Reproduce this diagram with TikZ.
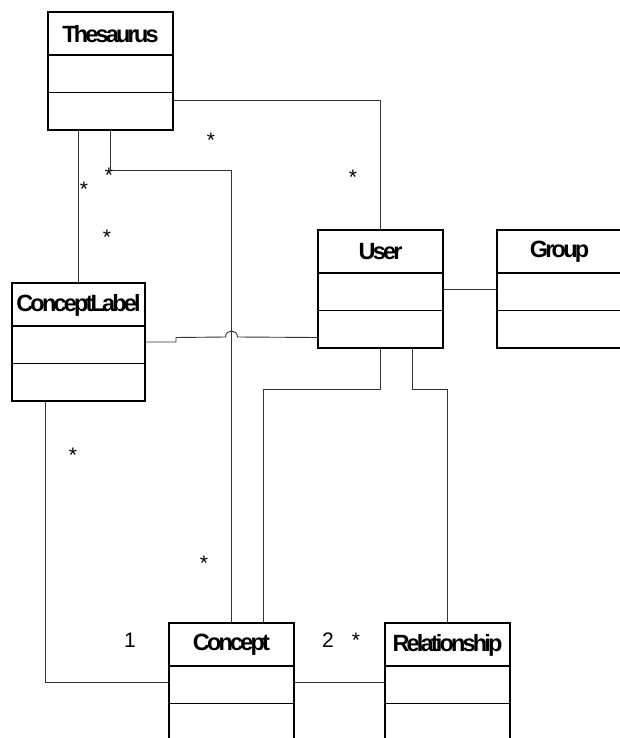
\documentclass[tikz,border=0pt]{standalone}
\usepackage{fontspec}
\setmainfont{Liberation Sans}
\newfontfamily\clsfont[LetterSpace=-12]{Liberation Sans}
\usetikzlibrary{calc}
\tikzset{
  clsbox/.style={draw, line width=1.5pt, anchor=north west, minimum height=118pt, inner sep=0pt, outer sep=0pt},
  clstitle/.style={font=\clsfont\bfseries\fontsize{23.5}{23.5}\selectfont, inner sep=0pt},
  clsdiv/.style={line width=1.6pt},
  conn/.style={line width=0.9pt, draw=black!80},
  mult/.style={font=\fontsize{21}{21}\selectfont, inner sep=0pt}
}
\newcommand{\umlcls}[5]{%
  \node[clsbox, minimum width=#4] (#1) at (#2,#3) {};
  \node[clstitle] (#1-t) at ($(#1.north)+(0,22)$) {#5};
  \draw[clsdiv] ($(#1.north west)+(0,43)$) -- ($(#1.north east)+(0,43)$);
  \draw[clsdiv] ($(#1.north west)+(0,80.5)$) -- ($(#1.north east)+(0,80.5)$);
}
\begin{document}
\begin{tikzpicture}[x=1pt,y=-1pt]
\useasboundingbox (0,0) rectangle (620,738);
\fill[white] (0,0) rectangle (620,738);
\umlcls{th}{48}{12}{125pt}{Thesaurus}
\umlcls{us}{318}{230}{125pt}{User}
\umlcls{gr}{497}{230}{125pt}{Group}
\umlcls{cl}{12}{283}{133pt}{ConceptLabel}
\umlcls{co}{169}{623}{125pt}{Concept}
\umlcls{re}{385}{623}{125pt}{Relationship}
\coordinate (k1) at (231.5,170);
% connectors
\draw[conn] ([yshift=-29pt]th.east) -| (us.north);
\draw[conn] (cl.north |- th.south) -- (cl.north);
\draw[conn] (th.south) |- (k1) -- (co.north);
\draw[conn] (cl.east) -- ++(31,0) -- ++(0,-4.5) -- (225.5,337)
   .. controls (225.5,329) and (237.5,329) .. (237.5,337)
   -- ([yshift=-48.5pt]us.west);
\draw[conn] (us.east) -- (gr.west);
\draw[conn] (us.south) -- ++(0,41) -| ([xshift=31.5pt]co.north);
\draw[conn] ([xshift=31.5pt]us.south) -- ++(0,41) -| (re.north);
\draw[conn] ([xshift=-33.5pt]cl.south) |- (co.west);
\draw[conn] (co.east) -- (re.west);
% multiplicities
\node[mult] (m1) at (211,140) {*};
\node[mult] (m2) at (109,175) {*};
\node[mult] (m3) at (84,189) {*};
\node[mult] (m4) at (107,237) {*};
\node[mult] (m5) at (353,177) {*};
\node[mult] (m6) at (73,455) {*};
\node[mult] (m7) at (204,563) {*};
\node[mult] (m8) at (130,640) {1};
\node[mult] (m9) at (328,640) {2};
\node[mult] (m10) at (356,640) {*};
\end{tikzpicture}
\end{document}
